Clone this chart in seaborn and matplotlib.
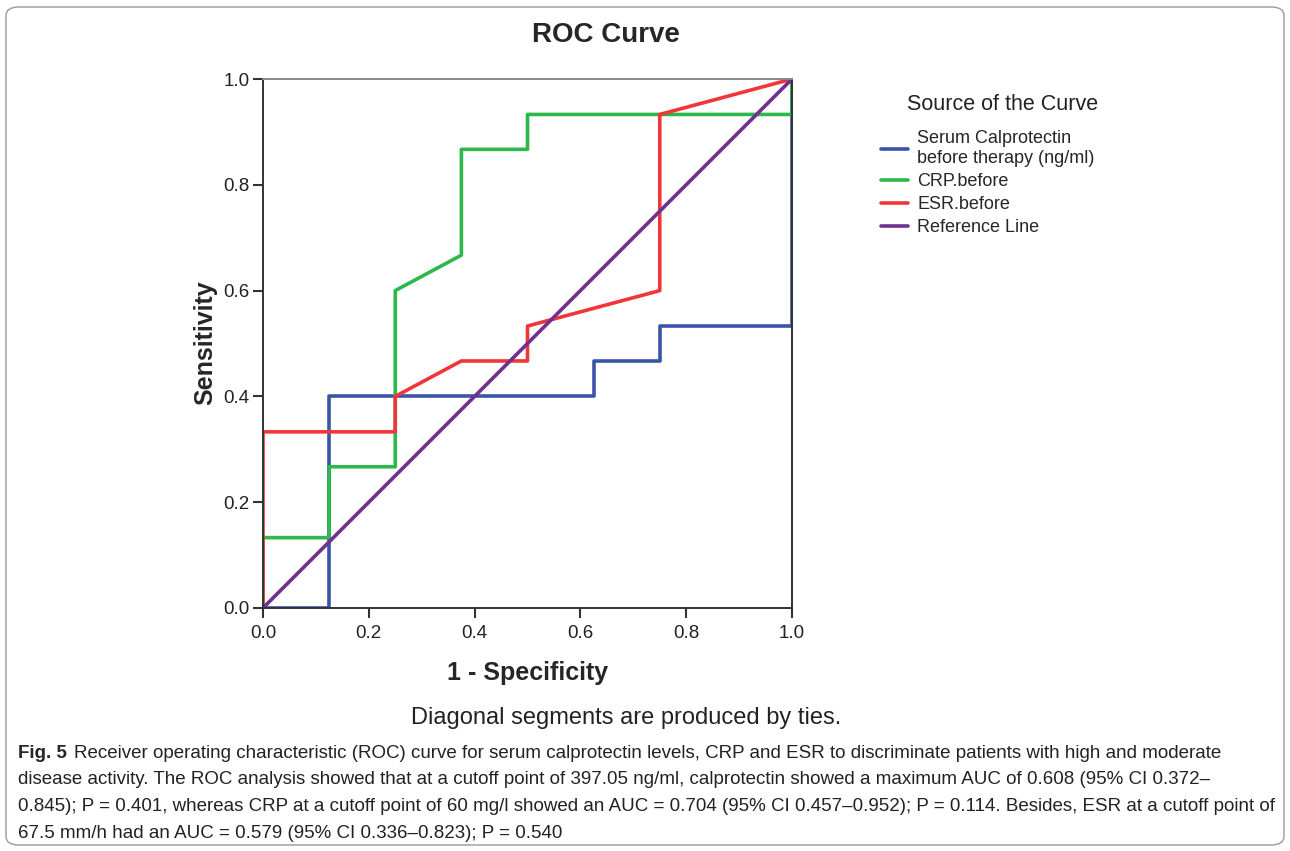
import pandas as pd
import matplotlib.pyplot as plt
import seaborn as sns
from matplotlib.patches import FancyBboxPatch

# ROC points (1 - specificity, sensitivity)
calpro_x = [0, 0.125, 0.125, 0.625, 0.625, 0.75, 0.75, 1, 1]
calpro_y = [0, 0, 0.4, 0.4, 0.467, 0.467, 0.533, 0.533, 1]
crp_x = [0, 0, 0.125, 0.125, 0.25, 0.25, 0.375, 0.375, 0.5, 0.5, 1, 1]
crp_y = [0, 0.133, 0.133, 0.267, 0.267, 0.6, 0.667, 0.867, 0.867, 0.933, 0.933, 1]
esr_x = [0, 0, 0.25, 0.25, 0.375, 0.5, 0.5, 0.75, 0.75, 1]
esr_y = [0, 0.333, 0.333, 0.4, 0.467, 0.467, 0.533, 0.6, 0.933, 1]
ref_x = [0, 1]
ref_y = [0, 1]

curve_names = ["Serum Calprotectin\nbefore therapy (ng/ml)", "CRP.before",
               "ESR.before", "Reference Line"]
curve_colors = ["#3a55a8", "#2cb84a", "#f0363a", "#70308f"]
ticks = [0.0, 0.2, 0.4, 0.6, 0.8, 1.0]

caption = [
    "Receiver operating characteristic (ROC) curve for serum calprotectin levels, CRP and ESR to discriminate patients with high and moderate",
    "disease activity. The ROC analysis showed that at a cutoff point of 397.05 ng/ml, calprotectin showed a maximum AUC of 0.608 (95% CI 0.372\u2013",
    "0.845); P = 0.401, whereas CRP at a cutoff point of 60 mg/l showed an AUC = 0.704 (95% CI 0.457\u20130.952); P = 0.114. Besides, ESR at a cutoff point of",
    "67.5 mm/h had an AUC = 0.579 (95% CI 0.336\u20130.823); P = 0.540",
]

frames = []
for name, xs, ys in zip(curve_names, [calpro_x, crp_x, esr_x, ref_x],
                        [calpro_y, crp_y, esr_y, ref_y]):
    frames.append(pd.DataFrame({"fpr": xs, "tpr": ys, "curve": name}))
df = pd.concat(frames, ignore_index=True)

sns.set_theme(style="white")
plt.rcParams["font.family"] = ["Liberation Sans", "DejaVu Sans"]

W, H = 1290, 851
fig = plt.figure(figsize=(W / 100, H / 100), dpi=100)
ax = fig.add_axes([263 / W, 1 - 608 / H, 529 / W, 529 / H])

sns.lineplot(data=df, x="fpr", y="tpr", hue="curve", sort=False, estimator=None,
             palette=dict(zip(curve_names, curve_colors)), linewidth=2.6, ax=ax)

ax.set_xlim(0, 1)
ax.set_ylim(0, 1)
ax.set_xticks(ticks)
ax.set_yticks(ticks)
ax.set_xticklabels([f"{t:.1f}" for t in ticks], fontsize=13.5, color="#222222")
ax.set_yticklabels([f"{t:.1f}" for t in ticks], fontsize=13.5, color="#222222")
ax.tick_params(axis="x", direction="out", length=7, width=1.5, color="#333333",
               bottom=True, pad=5)
ax.tick_params(axis="y", direction="out", length=7, width=1.5, color="#333333",
               left=True, pad=2.5)
for side, sp in ax.spines.items():
    sp.set_color("#333333")
    sp.set_linewidth(1.4)
ax.spines["top"].set_color("#888888")
ax.set_xlabel("")
ax.set_ylabel("")

fig.text(528 / W, 1 - 673 / H, "1 - Specificity", ha="center", va="center",
         fontsize=18, fontweight="bold")
fig.text(205 / W, 1 - 343 / H, "Sensitivity", ha="center", va="center",
         fontsize=18, fontweight="bold", rotation=90)
fig.text(606 / W, 1 - 35 / H, "ROC Curve", ha="center", va="center",
         fontsize=20, fontweight="bold")

leg = ax.legend(title="Source of the Curve", loc="upper left",
                bbox_to_anchor=(1.155, 0.985), frameon=False, fontsize=13,
                title_fontsize=15.5, handlelength=1.5, handletextpad=0.5,
                labelspacing=0.33, borderaxespad=0)
leg._legend_box.align = "left"
leg._legend_box.sep = 11
leg.get_title().set_position((26, 0))
leg.get_title().set_color("#222222")

fig.text(626 / W, 1 - 718 / H, "Diagonal segments are produced by ties.",
         ha="center", va="center", fontsize=17, color="#222222")

fig.text(18 / W, 1 - 753 / H, "Fig. 5", ha="left", va="center",
         fontsize=13.5, fontweight="bold")
for i, line in enumerate(caption):
    x0 = 74 / W if i == 0 else 18 / W
    fig.text(x0, 1 - (753 + 26.7 * i) / H, line, ha="left", va="center",
             fontsize=13.5, color="#222222")

border = FancyBboxPatch((6 / W, 6 / H), 1278 / W, 838 / H,
                        boxstyle="round,pad=0,rounding_size=0.01",
                        transform=fig.transFigure, fill=False,
                        edgecolor="#999999", linewidth=1)
fig.patches.append(border)

fig.savefig("out.png", dpi=100)
